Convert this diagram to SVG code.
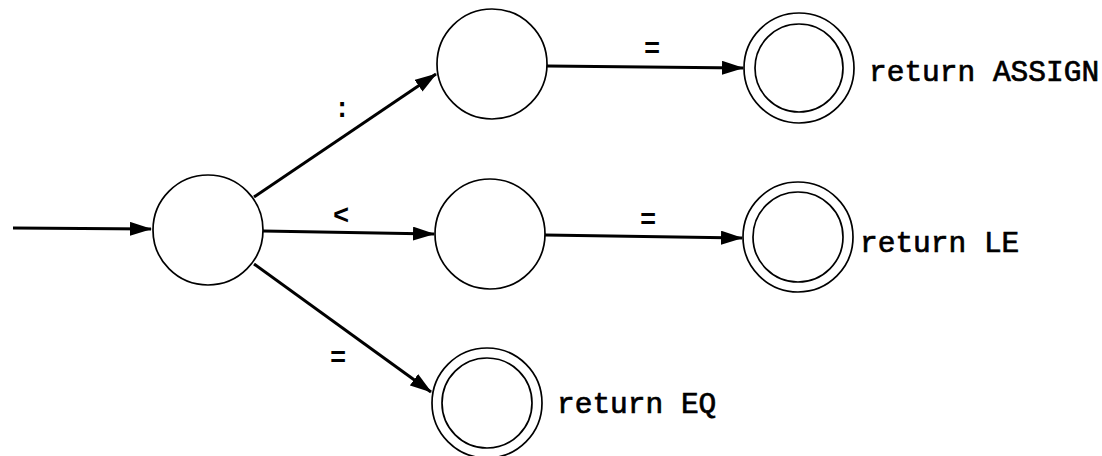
<svg xmlns="http://www.w3.org/2000/svg" width="1102" height="456" viewBox="0 0 1102 456">
<style>
.st{fill:#fff;stroke:#000;stroke-width:1.7}
.ed{fill:none;stroke:#000;stroke-width:3}
.lb{font-family:"Liberation Mono","Courier New",monospace;font-size:27px;font-weight:bold;fill:#000;text-anchor:middle}
.rt{font-family:"Liberation Mono","Courier New",monospace;font-size:29.5px;fill:#000;stroke:#000;stroke-width:0.7}
</style>
<defs>
<marker id="ah" markerUnits="userSpaceOnUse" markerWidth="22" markerHeight="14" refX="21" refY="7" orient="auto">
<path d="M0,0 L22,7 L0,14 Z" fill="#000"/>
</marker>
</defs>
<rect width="1102" height="456" fill="#fff"/>
<g id="connectors">
<line class="ed" x1="13" y1="228" x2="151" y2="229" marker-end="url(#ah)"/>
<line class="ed" x1="254" y1="197" x2="436" y2="74" marker-end="url(#ah)"/>
<line class="ed" x1="263" y1="231" x2="434" y2="234" marker-end="url(#ah)"/>
<line class="ed" x1="254" y1="264" x2="431" y2="392" marker-end="url(#ah)"/>
<line class="ed" x1="547" y1="66" x2="743" y2="68" marker-end="url(#ah)"/>
<line class="ed" x1="545" y1="235" x2="742" y2="238" marker-end="url(#ah)"/>
<text class="lb" x="342" y="117">:</text>
<text class="lb" x="341" y="224">&lt;</text>
<text class="lb" x="338" y="366">=</text>
<text class="lb" x="652" y="57">=</text>
<text class="lb" x="648" y="228">=</text>
</g>
<g id="s0"><circle class="st" cx="208" cy="230" r="55"/></g>
<g id="s1"><circle class="st" cx="492" cy="64" r="55"/></g>
<g id="s2"><circle class="st" cx="490" cy="234" r="55"/></g>
<g id="assign">
<circle class="st" cx="799" cy="68" r="55"/>
<circle class="st" cx="799" cy="68" r="44"/>
<text class="rt" x="869" y="81">return ASSIGN</text>
</g>
<g id="le">
<circle class="st" cx="798" cy="237" r="55"/>
<circle class="st" cx="798" cy="237" r="45"/>
<text class="rt" x="860" y="252">return LE</text>
</g>
<g id="eq">
<circle class="st" cx="487" cy="403" r="55"/>
<circle class="st" cx="487" cy="403" r="45"/>
<text class="rt" x="557" y="413">return EQ</text>
</g>
</svg>
